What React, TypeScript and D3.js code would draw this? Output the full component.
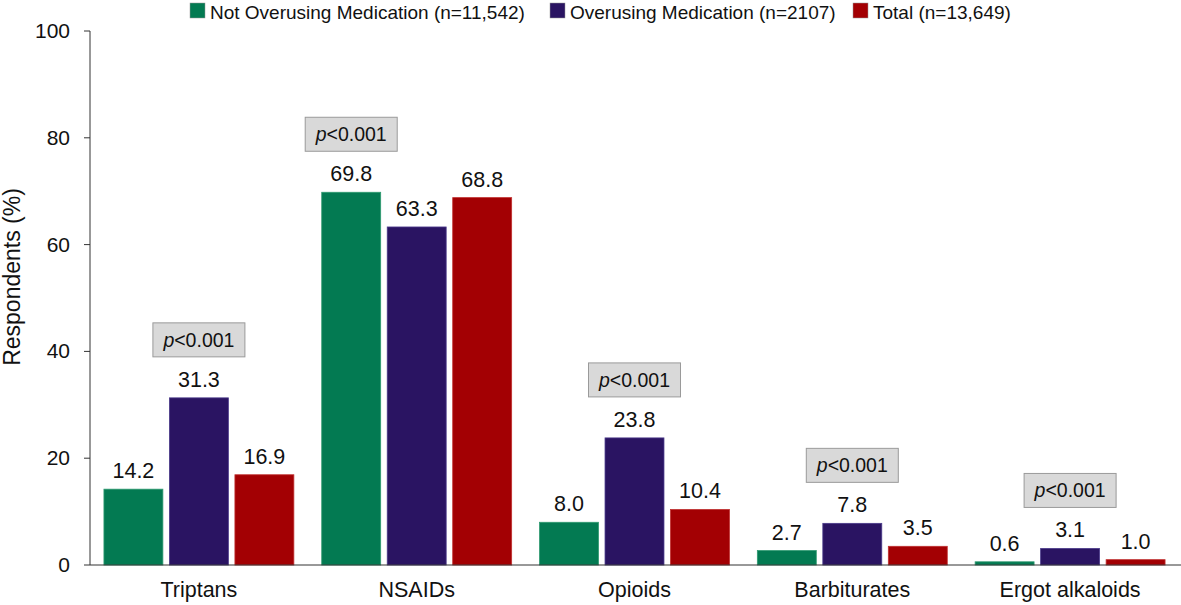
import React from "react";
import * as d3 from "d3";

const categories = ["Triptans", "NSAIDs", "Opioids", "Barbiturates", "Ergot alkaloids"];
const seriesNames = [
  "Not Overusing Medication (n=11,542)",
  "Overusing Medication (n=2107)",
  "Total (n=13,649)",
];
const notOverusing = [14.2, 69.8, 8.0, 2.7, 0.6];
const overusing = [31.3, 63.3, 23.8, 7.8, 3.1];
const total = [16.9, 68.8, 10.4, 3.5, 1.0];
const pValues = ["<0.001", "<0.001", "<0.001", "<0.001", "<0.001"];
const yTicks = [0, 20, 40, 60, 80, 100];

const colors = ["#037a52", "#2a1462", "#a30003"];
const strokes = ["#2f9a70", "#4a3a8a", "#c03030"];

const W = 1181;
const H = 605;
const FONT = "'Liberation Sans', Arial, Helvetica, sans-serif";

export default function App() {
  const series = [notOverusing, overusing, total];
  const y = d3.scaleLinear().domain([0, 100]).range([565, 31]);
  const x0 = d3
    .scaleBand<string>()
    .domain(categories)
    .range([90, 1179])
    .paddingInner(0.128)
    .paddingOuter(0.064);
  const x1 = d3
    .scaleBand<number>()
    .domain([0, 1, 2])
    .range([0, x0.bandwidth()])
    .paddingInner(0.1)
    .paddingOuter(0);

  const legendX = [190, 550, 853];

  return (
    <svg
      width={W}
      height={H}
      style={{ position: "absolute", left: 0, top: 0, background: "#fff" }}
      fontFamily={FONT}
    >
      {/* legend */}
      {seriesNames.map((name, i) => (
        <g key={name} transform={`translate(${legendX[i]},3)`}>
          <rect width={15} height={15} fill={colors[i]} stroke="#999" strokeWidth={0.5} />
          <text x={20} y={16} fontSize={19} fill="#111">
            {name}
          </text>
        </g>
      ))}

      {/* y axis */}
      <line x1={90} x2={90} y1={y(100)} y2={y(0)} stroke="#333" strokeWidth={1} />
      {yTicks.map((t) => (
        <g key={t}>
          <line x1={84} x2={90} y1={y(t)} y2={y(t)} stroke="#333" />
          <text x={70} y={y(t) + 7} fontSize={21} textAnchor="end" fill="#111">
            {t}
          </text>
        </g>
      ))}
      <text
        transform={`translate(20,277) rotate(-90)`}
        fontSize={23}
        textAnchor="middle"
        fill="#111"
      >
        Respondents (%)
      </text>

      {/* bars */}
      {categories.map((c, ci) => {
        const gx = x0(c)!;
        const vals = series.map((s) => s[ci]);
        const maxIdx = vals.indexOf(Math.max(...vals));
        const bx = gx + x1(maxIdx)! + x1.bandwidth() / 2;
        const boxBottom = y(vals[maxIdx]) - 41;
        return (
          <g key={c}>
            {vals.map((v, si) => (
              <g key={si}>
                <rect
                  x={gx + x1(si)!}
                  y={y(v)}
                  width={x1.bandwidth()}
                  height={y(0) - y(v)}
                  fill={colors[si]}
                  stroke={strokes[si]}
                  strokeWidth={0.8}
                />
                <text
                  x={gx + x1(si)! + x1.bandwidth() / 2}
                  y={y(v) - 11}
                  fontSize={21.5}
                  textAnchor="middle"
                  fill="#111"
                >
                  {v.toFixed(1)}
                </text>
              </g>
            ))}
            <rect
              x={bx - 46}
              y={boxBottom - 34}
              width={92}
              height={34}
              fill="#d9d9d9"
              stroke="#9a9a9a"
              strokeWidth={1}
            />
            <text
              x={bx}
              y={boxBottom - 10}
              fontSize={19.5}
              textAnchor="middle"
              fill="#111"
            >
              <tspan fontStyle="italic">p</tspan>
              {pValues[ci]}
            </text>
            <text
              x={gx + x0.bandwidth() / 2}
              y={597}
              fontSize={21.5}
              textAnchor="middle"
              fill="#111"
            >
              {c}
            </text>
          </g>
        );
      })}

      {/* x axis */}
      <line x1={90} x2={1181} y1={y(0)} y2={y(0)} stroke="#333" strokeWidth={1} />
    </svg>
  );
}
